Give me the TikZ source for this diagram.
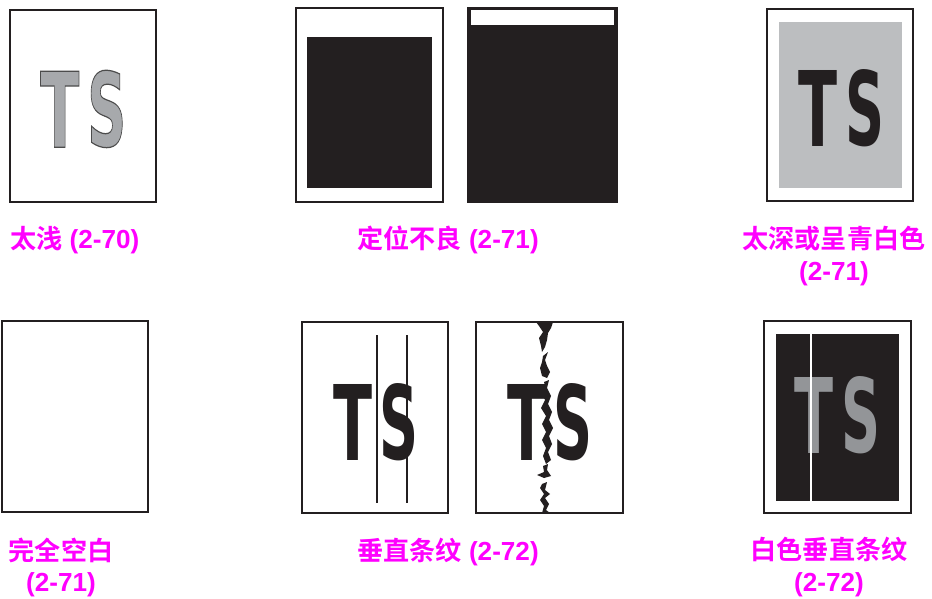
\documentclass[tikz,border=0pt]{standalone}
\usepackage{fontspec}
\usepackage{graphicx}
\usepackage{xcolor}
\usepackage{tikz}
\usetikzlibrary{calc}
\setmainfont{Liberation Sans}
\newfontfamily\cjk{Noto Sans CJK SC}[BoldFont={Noto Sans CJK SC Bold}]
\newfontfamily\tsfont{DejaVu Sans}

\definecolor{ink}{HTML}{231F20}
\definecolor{lightgray}{HTML}{A7A9AC}
\definecolor{bggray}{HTML}{BCBEC0}
\definecolor{midgray}{HTML}{939598}
\definecolor{lblmag}{HTML}{FF00FF}

\newcommand{\lblfont}{\fontsize{22.3}{26.5}\selectfont\bfseries}
\newcommand{\tletter}[1]{\resizebox{1.17cm}{2.28cm}{\tsfont\bfseries #1}}
\newcommand{\outlined}[1]{\special{pdf:literal direct 2 Tr 0.12 w 0.3 0.3 0.3 RG}#1\special{pdf:literal direct 0 Tr}}

\tikzset{
  page/.style={draw=ink,line width=1.6pt,fill=white},
  lbl/.style={text=lblmag,font=\lblfont,inner sep=0pt,align=center},
  glyph/.style={anchor=north west,inner sep=0pt}
}

\begin{document}
\begin{tikzpicture}[x=0.03cm,y=-0.03cm]
  \useasboundingbox (0,0) rectangle (932,599);
  % --- 1: zu hell ---
  \begin{scope}
    \draw[page] (10,10) rectangle (156,202);
    \node[glyph,text=lightgray] (t1) at (40,71) {\outlined{\tletter{T}}};
    \node[glyph,text=lightgray] (s1) at (87,70) {\outlined{\tletter{S}}};
    \node[lbl,anchor=west] (lbl1) at (10,240) {{\cjk 太浅} (2-70)};
  \end{scope}
  % --- 2: Lage falsch ---
  \begin{scope}
    \draw[page] (296,8) rectangle (443,202);
    \fill[ink] (307,37) rectangle (432,188);
    \draw[page,fill=ink] (468,8) rectangle (617,202);
    \fill[white] (471,10) rectangle (614,25);
    \node[lbl] (lbl2) at (448,240) {{\cjk 定位不良} (2-71)};
  \end{scope}
  % --- 3: zu dunkel ---
  \begin{scope}
    \draw[page] (767,9) rectangle (913,201);
    \fill[bggray] (779,22) rectangle (902,188);
    \node[glyph,text=ink] (t3) at (798,70) {\tletter{T}};
    \node[glyph,text=ink] (s3) at (845,69) {\tletter{S}};
    \node[lbl] (lbl3) at (834,256) {{\cjk 太深或呈青白色}\\(2-71)};
  \end{scope}
  % --- 4: leer ---
  \begin{scope}
    \draw[page] (2,321) rectangle (148,512);
    \node[lbl] (lbl4) at (61,567) {{\cjk 完全空白}\\(2-71)};
  \end{scope}
  % --- 5: Streifen ---
  \begin{scope}
    \draw[page] (302,322) rectangle (448,513);
    \node[glyph,text=ink] (t5) at (333,384) {\tletter{T}};
    \node[glyph,text=ink] (s5) at (379,383) {\tletter{S}};
    \draw[ink,line width=1pt] (377,335) -- (377,503);
    \draw[ink,line width=1pt] (407,335) -- (407,503);
    \draw[page] (476,322) rectangle (623,513);
    \node[glyph,text=ink] (t5b) at (507,384) {\tletter{T}};
    \node[glyph,text=ink] (s5b) at (553,383) {\tletter{S}};
    % Riss
    \fill[ink] (536,322) -- (553,322) -- (551,328) -- (548,333) -- (547,340) -- (545,347) -- (542,352)
      -- (541,346) -- (539,338) -- (543,332) -- (539,326) -- cycle;
    \fill[ink] (543,356) -- (548,352) -- (545,360) -- (547,366) -- (550,372) -- (547,378) -- (542,376)
      -- (540,368) -- (542,362) -- cycle;
    \fill[ink] (544,382) -- (549,380) -- (547,388) -- (551,396) -- (548,404) -- (552,412) -- (549,420)
      -- (553,428) -- (549,436) -- (552,444) -- (548,452) -- (551,460) -- (546,464) -- (543,456)
      -- (546,448) -- (542,440) -- (546,432) -- (542,424) -- (546,416) -- (541,408) -- (545,400)
      -- (541,392) -- (545,386) -- cycle;
    \fill[ink] (543,466) -- (548,464) -- (547,470) -- (551,476) -- (544,478) -- (537,475) -- (544,472) -- cycle;
    \fill[ink] (542,484) -- (547,482) -- (545,490) -- (550,494) -- (545,498) -- (549,504) -- (546,510)
      -- (550,513) -- (542,513) -- (544,506) -- (540,500) -- (544,494) -- (540,488) -- cycle;
    \node[lbl] (lbl5) at (448,552) {{\cjk 垂直条纹} (2-72)};
  \end{scope}
  % --- 6: weisse Streifen ---
  \begin{scope}
    \draw[page] (764,321) rectangle (911,513);
    \fill[ink] (776,334) rectangle (899,501);
    \node[glyph,text=midgray] (t6) at (794,377) {\tletter{T}};
    \node[glyph,text=midgray] (s6) at (841,376) {\tletter{S}};
    \draw[white,line width=1.3pt] (811,334) -- (811,501);
    \node[lbl] (lbl6) at (829,567) {{\cjk 白色垂直条纹}\\(2-72)};
  \end{scope}
\end{tikzpicture}
\end{document}
